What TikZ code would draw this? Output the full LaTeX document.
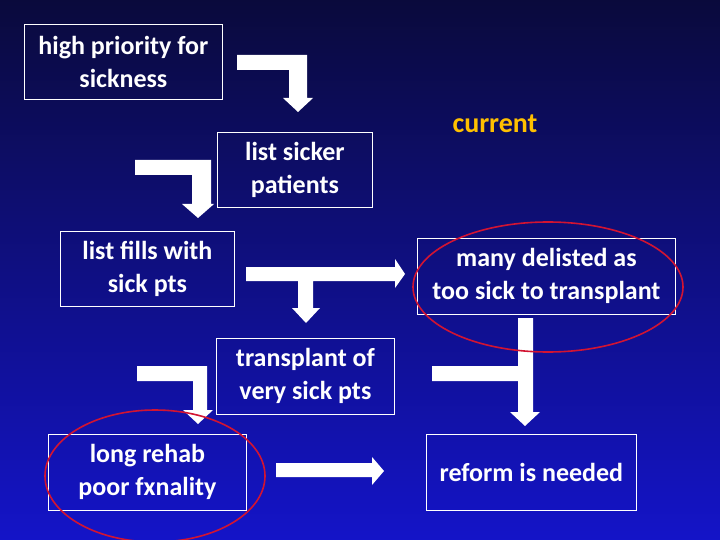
\documentclass[tikz,border=0pt]{standalone}
\usepackage{fontspec}
\setmainfont{Carlito}
\begin{document}
\begin{tikzpicture}[x=1pt,y=-1pt,
  bx/.style={draw=white,line width=0.8pt,text=white,align=center,font=\fontsize{26}{33}\selectfont\bfseries,inner sep=0pt,anchor=north west},
  arr/.style={fill=white,draw=none},
  ring/.style={draw={rgb,255:red,210;green,20;blue,50},line width=1.6pt}]
\shade[top color={rgb,255:red,10;green,10;blue,60},bottom color={rgb,255:red,20;green,20;blue,200}] (0,0) rectangle (720,540);
\useasboundingbox (0,0) rectangle (720,540);
\node[bx,minimum width=198pt,minimum height=75pt] (b1) at (24,24) {high priority for\\sickness};
\node[bx,minimum width=155pt,minimum height=75pt] (b2) at (217,132) {list sicker\\patients};
\node[bx,minimum width=174pt,minimum height=75pt] (b3) at (60,231) {list fills with\\sick pts};
\node[bx,minimum width=258pt,minimum height=76pt] (b4) at (417,238) {many delisted as\\too sick to transplant};
\node[bx,minimum width=178pt,minimum height=76pt] (b5) at (216,338) {transplant of\\very sick pts};
\node[bx,minimum width=198pt,minimum height=76pt] (b6) at (48,434) {long rehab\\poor fxnality};
\node[bx,minimum width=210pt,minimum height=76pt] (b7) at (426,434) {reform is needed};
\node[text={rgb,255:red,255;green,192;blue,0},font=\fontsize{28}{30}\selectfont\bfseries] (cur) at (495,124) {current};
% arrow 1
\fill[arr] (237,55)--(307,55)--(307,98)--(313,98)--(298,112)--(283,98)--(289,98)--(289,70)--(237,70)--cycle;
% arrow 2
\fill[arr] (135,160)--(211,160)--(211,204)--(214,204)--(198,218)--(182,204)--(192,204)--(192,175)--(135,175)--cycle;
% arrow 3 (T)
\fill[arr] (246,267)--(395,267)--(395,259)--(405,274)--(395,288)--(395,281)--(313,281)--(313,308)--(320,308)--(306,323)--(292,308)--(298,308)--(298,281)--(246,281)--cycle;
% arrow 4
\fill[arr] (137,366)--(207,366)--(207,410)--(213,410)--(198,424)--(183,410)--(193,410)--(193,381)--(137,381)--cycle;
% arrow 5
\fill[arr] (518,318)--(533,318)--(533,412)--(540,412)--(525,426)--(510,412)--(518,412)--(518,381)--(432,381)--(432,366)--(518,366)--cycle;
% arrow 6
\fill[arr] (276,463)--(372,463)--(372,457)--(384,471)--(372,485)--(372,477)--(276,477)--cycle;
\draw[ring] (548,287) ellipse [x radius=135, y radius=65];
\draw[ring] (155,476) ellipse [x radius=110, y radius=66];
\end{tikzpicture}
\end{document}
